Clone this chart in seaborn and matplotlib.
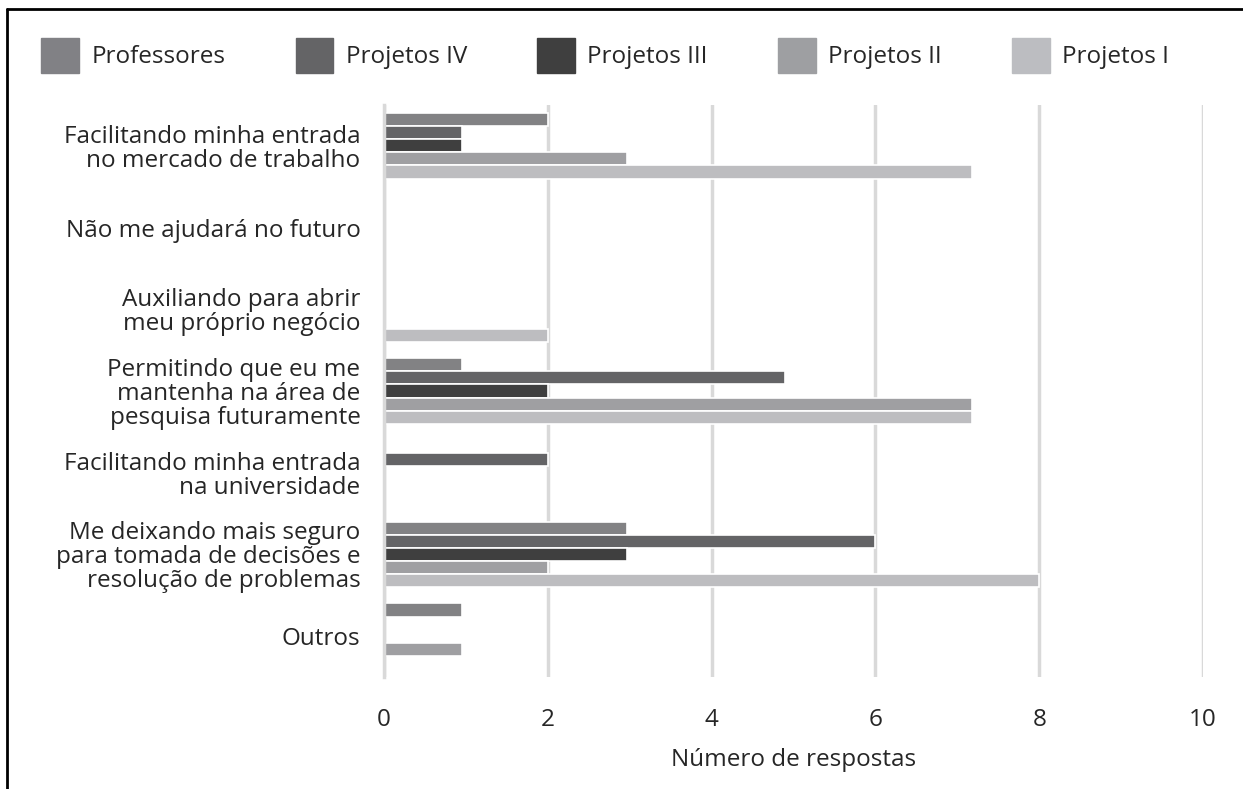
import numpy as np
import pandas as pd
import matplotlib
matplotlib.use("Agg")
import matplotlib.pyplot as plt
import seaborn as sns
from matplotlib.lines import Line2D
from matplotlib.ticker import FixedLocator

categories = [
    "Facilitando minha entrada\nno mercado de trabalho",
    "Não me ajudará no futuro",
    "Auxiliando para abrir\nmeu próprio negócio",
    "Permitindo que eu me\nmantenha na área de\npesquisa futuramente",
    "Facilitando minha entrada\nna universidade",
    "Me deixando mais seguro\npara tomada de decisões e\nresolução de problemas",
    "Outros",
]
series = ["Professores", "Projetos IV", "Projetos III", "Projetos II", "Projetos I"]

professores = [2.0, 0, 0, 0.95, 0, 2.97, 0.95]
projetos_iv = [0.95, 0, 0, 4.9, 2.0, 6.0, 0]
projetos_iii = [0.95, 0, 0, 2.0, 0, 2.97, 0]
projetos_ii = [2.97, 0, 0, 7.18, 0, 2.0, 0.95]
projetos_i = [7.18, 0, 2.0, 7.18, 0, 8.0, 0]

colors = ["#818185", "#646466", "#3f3f3f", "#9e9fa2", "#bcbdc1"]

rows = []
for name, vals in zip(series, [professores, projetos_iv, projetos_iii, projetos_ii, projetos_i]):
    for cat, v in zip(categories, vals):
        rows.append({"cat": cat, "serie": name, "valor": v})
df = pd.DataFrame(rows)

sns.set_style("white")
plt.rcParams["font.family"] = ["Open Sans", "DejaVu Sans"]

fig = plt.figure(figsize=(12.43, 7.89), dpi=100)
ax = fig.add_axes([384 / 1243, 1 - 677 / 789, 819 / 1243, (677 - 105) / 789])

sns.barplot(data=df, y="cat", x="valor", hue="serie", hue_order=series,
            order=categories, palette=colors, orient="h", width=0.8,
            edgecolor="white", linewidth=1.2, ax=ax, legend=True)

ax.set_xlim(0, 10)
ax.set_ylim(len(categories) - 0.5, -0.5)
ax.set_xticks([0, 2, 4, 6, 8, 10])
ax.xaxis.grid(True, color="#d9d9d9", linewidth=2.5)
ax.set_axisbelow(True)
for s in ["top", "right", "bottom"]:
    ax.spines[s].set_visible(False)
ax.spines["left"].set_color("#d9d9d9")
ax.spines["left"].set_linewidth(2.5)

ax.tick_params(axis="x", length=0, labelsize=17.5, pad=22)
ax.tick_params(axis="y", which="major", length=0, labelsize=17.5, pad=17)
ax.yaxis.set_minor_locator(FixedLocator(np.arange(-0.5, len(categories), 1.0)[1:]))
ax.tick_params(axis="y", which="minor", length=12, width=2.5, color="#d9d9d9")
for lbl in ax.get_yticklabels():
    lbl.set_horizontalalignment("right")
    lbl.set_multialignment("right")
    lbl.set_linespacing(1.0)

ax.set_ylabel("")
ax.set_xlabel("Número de respostas", fontsize=17.5, labelpad=12)

ax.get_legend().remove()
handles = [plt.Rectangle((0, 0), 1, 1, color=c) for c in colors]
fig.legend(handles, series, loc="upper left", bbox_to_anchor=(0.0255, 0.964),
           ncol=5, frameon=False, fontsize=17.5, handlelength=1.55, handleheight=1.8,
           handletextpad=0.5, columnspacing=2.9, borderaxespad=0)

fig.add_artist(Line2D([0.006, 0.006], [0, 0.989], color="black", linewidth=2,
                      transform=fig.transFigure))
fig.add_artist(Line2D([0.006, 1.0], [0.989, 0.989], color="black", linewidth=2,
                      transform=fig.transFigure))

fig.savefig("out.png", dpi=100)
